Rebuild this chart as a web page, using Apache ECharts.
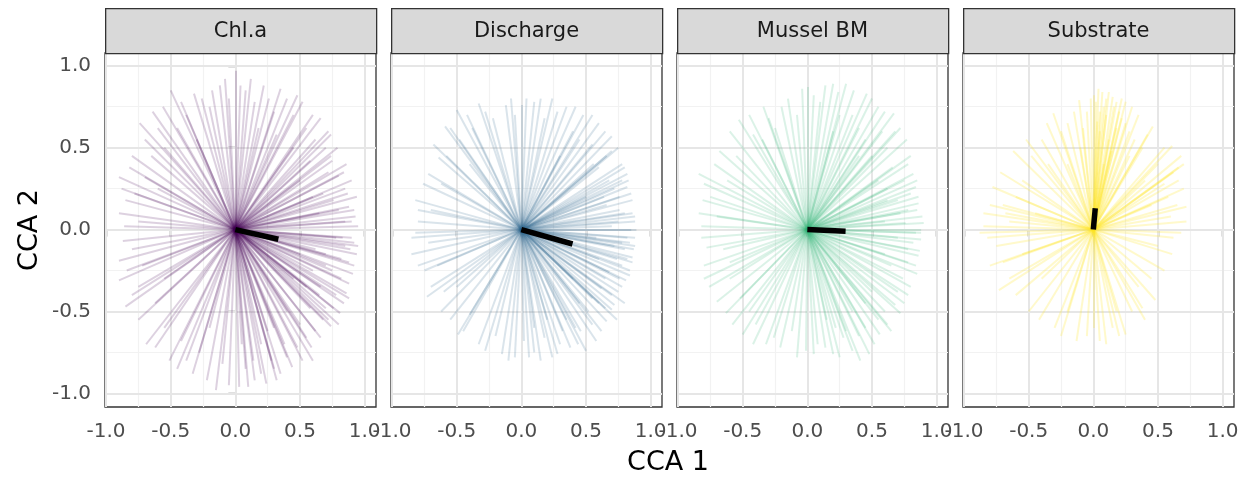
<!DOCTYPE html>
<html>
<head>
<meta charset="utf-8">
<script src="https://cdn.jsdelivr.net/npm/echarts@6/dist/echarts.min.js"></script>
<style>html,body{margin:0;padding:0;background:#fff;}#c{width:1252px;height:482px;}</style>
</head>
<body>
<div id="c"></div>
<script>
const panelNames = ['Chl.a', 'Discharge', 'Mussel BM', 'Substrate'];
const panelColors = ['#440154', '#31688E', '#35B779', '#FDE725'];
const xTicks = [-1.0, -0.5, 0.0, 0.5, 1.0];
const yTicks = [-1.0, -0.5, 0.0, 0.5, 1.0];
const minorTicks = [-0.75, -0.25, 0.25, 0.75];
const xRange = [-1.008, 1.088];
const yRange = [-1.083, 1.078];

// endpoints of each CCA biplot arrow (start at origin)
const chlEnds = [[0.95,0.02],[0.93,0.08],[0.90,-0.05],[0.88,0.14],[0.94,0.20],[0.85,0.25],[0.90,0.30],[0.80,0.33],[0.86,0.40],[0.75,0.42],[0.79,0.50],[0.70,0.50],[0.74,0.58],[0.62,0.55],[0.66,0.68],[0.55,0.62],[0.52,0.78],[0.45,0.70],[0.40,0.80],[0.30,0.72],[0.22,0.88],[0.15,0.78],[0.08,0.85],[0.00,0.97],[-0.05,0.80],[-0.12,0.88],[-0.20,0.75],[-0.32,0.83],[-0.38,0.70],[-0.50,0.85],[-0.45,0.62],[-0.56,0.75],[-0.64,0.72],[-0.55,0.50],[-0.74,0.65],[-0.65,0.45],[-0.80,0.45],[-0.70,0.32],[-0.90,0.32],[-0.78,0.22],[-0.85,0.18],[-0.90,0.10],[-0.75,0.05],[-0.87,-0.07],[-0.80,-0.12],[-0.90,-0.19],[-0.72,-0.22],[-0.90,-0.31],[-0.75,-0.35],[-0.85,-0.47],[-0.62,-0.45],[-0.69,-0.70],[-0.55,-0.60],[-0.51,-0.80],[-0.42,-0.68],[-0.33,-0.88],[-0.28,-0.75],[-0.15,-0.98],[-0.10,-0.82],[0.03,-0.96],[0.08,-0.85],[0.15,-0.92],[0.24,-0.94],[0.28,-0.80],[0.35,-0.88],[0.44,-0.84],[0.48,-0.72],[0.59,-0.72],[0.62,-0.62],[0.74,-0.59],[0.70,-0.48],[0.81,-0.51],[0.78,-0.40],[0.86,-0.39],[0.82,-0.30],[0.91,-0.27],[0.88,-0.20],[0.94,-0.15],[0.85,-0.10],[0.92,-0.08],[0.70,-0.15],[0.60,-0.25],[0.65,0.10],[0.55,-0.35],[0.50,0.30],[0.40,-0.50],[0.75,-0.25],[0.80,0.12],[0.72,-0.55],[0.68,0.22],[0.30,-0.60],[0.58,0.42],[0.20,-0.70],[0.45,-0.30],[0.83,-0.05],[0.65,-0.40],
  [0.90,0.05],[0.87,0.22],[0.84,0.35],[0.72,0.60],[0.60,0.70],[0.48,0.82],[0.35,0.86],[0.26,0.80],[0.12,0.92],[0.04,0.88],[-0.08,0.92],[-0.18,0.85],[-0.26,0.80],[-0.42,0.78],[-0.60,0.62],[-0.70,0.55],[-0.82,0.38],[-0.88,0.25],[-0.86,0.02],[-0.84,-0.25],[-0.80,-0.40],[-0.75,-0.55],[-0.62,-0.72],[-0.45,-0.85],[-0.38,-0.80],[-0.22,-0.92],[-0.05,-0.95],[0.10,-0.96],[0.20,-0.88],[0.32,-0.92],[0.40,-0.78],[0.52,-0.80],[0.55,-0.66],[0.66,-0.66],[0.68,-0.55],[0.76,-0.48],[0.84,-0.45],[0.88,-0.33],[0.92,-0.22],[0.95,-0.10],[0.89,-0.12],[0.78,-0.05],[0.85,0.05],[0.76,0.18],[0.62,-0.12],[0.58,-0.48],[0.50,-0.58],[0.38,-0.70],[0.25,-0.62],[0.14,-0.80],[0.72,0.35],[0.60,0.20],[0.45,0.50],[0.32,0.58],[0.18,0.62],[0.80,-0.58],[0.66,-0.35],[0.70,-0.22],[0.82,-0.18],[0.50,-0.15],[-0.30,0.55],[-0.60,0.25],[-0.55,-0.30],[-0.20,-0.60],[0.05,-0.70],[0.92,0.12],[0.88,-0.42],[0.60,-0.80],[0.74,0.45],[0.30,-0.85]];
const dischargeEnds = [[0.89,0.00],[0.86,0.10],[0.86,0.18],[0.84,-0.08],[0.82,0.26],[0.82,0.34],[0.78,0.40],[0.76,0.20],[0.70,0.48],[0.70,0.57],[0.60,0.65],[0.55,0.52],[0.48,0.70],[0.40,0.60],[0.35,0.75],[0.24,0.80],[0.18,0.68],[0.10,0.78],[0.04,0.80],[-0.05,0.70],[-0.12,0.76],[-0.22,0.68],[-0.33,0.77],[-0.38,0.62],[-0.50,0.73],[-0.48,0.55],[-0.59,0.63],[-0.58,0.45],[-0.64,0.44],[-0.72,0.34],[-0.62,0.28],[-0.82,0.18],[-0.70,0.12],[-0.80,0.05],[-0.85,-0.05],[-0.72,-0.08],[-0.85,-0.15],[-0.75,-0.25],[-0.65,-0.22],[-0.73,-0.41],[-0.60,-0.38],[-0.55,-0.55],[-0.49,-0.64],[-0.40,-0.52],[-0.33,-0.70],[-0.20,-0.65],[-0.15,-0.76],[-0.05,-0.78],[0.02,-0.68],[0.10,-0.75],[0.18,-0.66],[0.24,-0.78],[0.30,-0.70],[0.38,-0.72],[0.42,-0.60],[0.50,-0.74],[0.55,-0.58],[0.62,-0.62],[0.65,-0.48],[0.70,-0.49],[0.75,-0.38],[0.81,-0.31],[0.78,-0.22],[0.86,-0.17],[0.84,-0.25],[0.80,-0.12],[0.72,-0.10],[0.65,-0.30],[0.60,-0.18],[0.75,0.05],[0.68,0.30],[0.55,-0.42],[0.45,-0.45],[0.80,0.10],[0.70,-0.40],[0.35,-0.55],[0.60,0.38],[0.50,0.20],[0.82,-0.05],[0.76,-0.30],[0.66,0.15],[0.88,0.08],[0.58,-0.05],[0.72,0.25],[0.40,-0.30],
  [0.88,0.05],[0.87,-0.12],[0.85,0.22],[0.83,0.30],[0.80,0.38],[0.75,0.50],[0.65,0.60],[0.55,0.70],[0.42,0.75],[0.28,0.72],[0.15,0.80],[0.00,0.76],[-0.08,0.80],[-0.28,0.72],[-0.42,0.70],[-0.55,0.62],[-0.68,0.52],[-0.76,0.28],[-0.80,0.12],[-0.82,-0.02],[-0.80,-0.22],[-0.70,-0.35],[-0.62,-0.50],[-0.45,-0.62],[-0.28,-0.74],[-0.10,-0.80],[0.06,-0.78],[0.15,-0.80],[0.28,-0.76],[0.44,-0.70],[0.58,-0.68],[0.66,-0.56],[0.72,-0.46],[0.78,-0.35],[0.84,-0.28],[0.86,-0.20],[0.88,-0.10],[0.82,-0.18],[0.78,-0.08],[0.74,-0.18],[0.68,-0.26],[0.62,-0.36],[0.52,-0.50],[0.46,-0.62],[0.32,-0.62],[0.20,-0.55],[0.70,0.02],[0.64,0.20],[0.56,0.40],[0.45,0.55],[0.30,0.45],[0.80,-0.45],[0.74,-0.55],[0.85,0.00],[0.60,-0.45],[0.88,-0.05],[0.66,0.45],[0.78,0.30],[-0.40,0.40],[-0.50,-0.35],[0.10,-0.60],[0.76,0.12]];
const musselEnds = [[0.90,0.04],[0.88,-0.02],[0.85,0.12],[0.87,-0.13],[0.85,0.30],[0.80,0.22],[0.77,0.55],[0.78,0.40],[0.67,0.71],[0.62,0.50],[0.55,0.75],[0.46,0.83],[0.40,0.62],[0.30,0.89],[0.25,0.70],[0.20,0.89],[0.10,0.78],[0.00,0.87],[-0.08,0.70],[-0.15,0.80],[-0.25,0.62],[-0.34,0.75],[-0.42,0.58],[-0.53,0.67],[-0.55,0.45],[-0.68,0.48],[-0.62,0.30],[-0.84,0.34],[-0.75,0.20],[-0.81,0.18],[-0.70,0.08],[-0.82,0.02],[-0.78,-0.11],[-0.65,-0.12],[-0.80,-0.22],[-0.76,-0.35],[-0.60,-0.30],[-0.63,-0.51],[-0.52,-0.42],[-0.50,-0.64],[-0.40,-0.58],[-0.32,-0.70],[-0.21,-0.72],[-0.12,-0.62],[-0.01,-0.74],[0.08,-0.70],[0.20,-0.76],[0.28,-0.66],[0.41,-0.80],[0.45,-0.60],[0.56,-0.64],[0.60,-0.50],[0.72,-0.51],[0.70,-0.38],[0.85,-0.27],[0.78,-0.20],[0.82,-0.08],[0.72,0.10],[0.65,-0.22],[0.75,0.30],[0.50,-0.38],[0.55,0.30],[0.35,-0.50],[0.68,0.60],[0.15,-0.55],[0.60,0.05],[0.80,-0.35],[0.45,0.55],[0.86,0.20],[0.30,-0.62],[0.70,-0.05],[0.52,-0.70],[0.62,0.18],[0.40,0.45],[0.75,-0.45],
  [0.89,0.08],[0.88,-0.06],[0.86,0.16],[0.84,0.26],[0.80,0.45],[0.72,0.62],[0.60,0.72],[0.50,0.80],[0.36,0.85],[0.24,0.84],[0.14,0.88],[0.05,0.82],[-0.04,0.86],[-0.20,0.75],[-0.30,0.68],[-0.45,0.70],[-0.60,0.60],[-0.72,0.40],[-0.80,0.28],[-0.84,0.10],[-0.82,-0.05],[-0.80,-0.30],[-0.70,-0.44],[-0.58,-0.58],[-0.42,-0.70],[-0.26,-0.66],[-0.08,-0.78],[0.05,-0.76],[0.14,-0.72],[0.25,-0.78],[0.35,-0.74],[0.48,-0.76],[0.62,-0.58],[0.68,-0.46],[0.78,-0.40],[0.84,-0.22],[0.86,-0.16],[0.84,-0.02],[0.76,0.04],[0.70,0.18],[0.78,-0.12],[0.60,-0.15],[0.55,-0.55],[0.40,-0.65],[0.22,-0.60],[0.58,0.60],[0.50,0.45],[0.66,0.38],[0.35,0.70],[0.20,0.60],[0.82,0.34],[0.74,-0.30],[0.65,-0.62],[0.45,-0.45],[-0.35,0.55],[-0.60,-0.20],[-0.45,-0.50],[0.88,0.00],[0.62,0.25],[0.78,0.12]];
const substrateEnds = [[0.07,0.84],[0.15,0.81],[0.10,0.70],[0.02,0.78],[-0.05,0.72],[0.20,0.72],[-0.11,0.79],[0.25,0.65],[0.05,0.60],[-0.20,0.65],[0.30,0.75],[-0.31,0.71],[0.46,0.63],[0.38,0.50],[-0.40,0.55],[0.61,0.51],[0.50,0.40],[-0.52,0.55],[0.66,0.38],[0.55,0.28],[-0.62,0.48],[0.70,0.25],[-0.55,0.30],[0.72,0.14],[0.60,0.08],[-0.78,0.26],[-0.70,0.15],[0.68,-0.02],[-0.85,0.10],[-0.88,-0.02],[0.61,-0.15],[-0.75,-0.10],[0.55,-0.25],[-0.80,-0.22],[0.48,-0.43],[-0.73,-0.37],[0.40,-0.55],[-0.60,-0.40],[0.25,-0.64],[-0.42,-0.55],[0.10,-0.70],[-0.30,-0.60],[-0.13,-0.68],[0.00,-0.60],[0.18,-0.50],[-0.20,-0.50],[0.35,-0.35],[-0.55,-0.15],[0.45,0.15],[-0.45,0.10],[0.12,0.55],[-0.10,0.50],[0.28,0.45],[0.08,0.75],[0.18,0.62],[-0.65,0.05],[0.62,0.35],[-0.35,0.40],[0.00,0.82],[0.22,0.80],
  [0.10,0.80],[0.12,0.84],[0.05,0.72],[0.16,0.75],[0.03,0.66],[0.22,0.68],[-0.02,0.80],[0.28,0.60],[0.14,0.48],[0.08,0.40],[-0.08,0.62],[-0.15,0.72],[0.35,0.70],[0.42,0.58],[0.55,0.50],[0.68,0.45],[0.66,0.30],[0.72,0.05],[0.65,0.15],[0.58,0.20],[0.50,-0.10],[0.45,-0.30],[0.30,-0.50],[0.20,-0.65],[0.05,-0.68],[-0.05,-0.65],[-0.25,-0.65],[-0.50,-0.50],[-0.65,-0.30],[-0.82,-0.05],[-0.80,0.15],[-0.72,0.35],[-0.60,0.20],[-0.48,0.45],[-0.25,0.60],[-0.36,0.65],[-0.70,-0.20],[-0.85,0.02],[-0.40,-0.30],[0.70,0.40],[0.62,-0.05],[0.38,-0.48],[0.15,-0.60],[-0.68,0.10],[0.18,0.78],[0.04,0.86],[0.25,0.78],[0.32,0.55],[-0.20,0.40],[0.40,0.30]];
const meanX = [0.333, 0.396, 0.296, 0.015];
const meanY = [-0.059, -0.088, -0.010, 0.130];

const allEnds = [chlEnds, dischargeEnds, musselEnds, substrateEnds];
const lineOpacity = [0.18, 0.18, 0.18, 0.24];

const gridLefts = [105, 391, 677, 963];
const gridW = 271, gridTop = 53, gridH = 354, stripTop = 8;
const FONT = 'DejaVu Sans';

const grids = [], xAxes = [], yAxes = [], series = [], graphics = [];
for (let i = 0; i < 4; i++) {
  grids.push({left: gridLefts[i], top: gridTop, width: gridW, height: gridH,
    show: true, backgroundColor: '#fff', borderColor: '#333', borderWidth: 1.3, containLabel: false});
  xAxes.push({type: 'value', gridIndex: i, min: xRange[0], max: xRange[1],
    axisLine: {show: false},
    axisTick: {show: true, length: 7, customValues: xTicks, lineStyle: {color: '#333', width: 1.3}},
    axisLabel: {show: true, customValues: xTicks, margin: 15, color: '#4D4D4D', fontSize: 20, fontFamily: FONT,
      formatter: v => v.toFixed(1), hideOverlap: false, showMinLabel: true, showMaxLabel: true},
    splitLine: {show: false}});
  yAxes.push({type: 'value', gridIndex: i, min: yRange[0], max: yRange[1],
    axisLine: {show: false},
    axisTick: {show: i === 0, length: 7, customValues: yTicks, lineStyle: {color: '#333', width: 1.3}},
    axisLabel: {show: i === 0, customValues: yTicks, margin: 14, color: '#4D4D4D', fontSize: 20, fontFamily: FONT,
      formatter: v => v.toFixed(1), showMinLabel: true, showMaxLabel: true},
    splitLine: {show: false}});
  const minorData = [];
  minorTicks.forEach(t => {
    minorData.push({coords: [[t, yRange[0]], [t, yRange[1]]]});
    minorData.push({coords: [[xRange[0], t], [xRange[1], t]]});
  });
  series.push({type: 'lines', coordinateSystem: 'cartesian2d', xAxisIndex: i, yAxisIndex: i, silent: true, z: 1,
    lineStyle: {color: '#F2F2F2', width: 1.2, opacity: 1}, data: minorData});
  const majorData = [];
  xTicks.forEach(t => majorData.push({coords: [[t, yRange[0]], [t, yRange[1]]]}));
  yTicks.forEach(t => majorData.push({coords: [[xRange[0], t], [xRange[1], t]]}));
  series.push({type: 'lines', coordinateSystem: 'cartesian2d', xAxisIndex: i, yAxisIndex: i, silent: true, z: 1,
    lineStyle: {color: '#E6E6E6', width: 2, opacity: 1}, data: majorData});
  series.push({type: 'lines', coordinateSystem: 'cartesian2d', xAxisIndex: i, yAxisIndex: i, silent: true, z: 2,
    lineStyle: {color: panelColors[i], width: 2, opacity: lineOpacity[i], cap: 'butt'},
    data: allEnds[i].map(p => ({coords: [[0, 0], [p[0], p[1]]]}))});
  series.push({type: 'lines', coordinateSystem: 'cartesian2d', xAxisIndex: i, yAxisIndex: i, silent: true, z: 3,
    lineStyle: {color: '#000', width: 5.5, opacity: 1, cap: 'butt'},
    data: [{coords: [[0, 0], [meanX[i], meanY[i]]]}]});
  graphics.push({type: 'rect', left: gridLefts[i], top: stripTop, z: 10,
    shape: {width: gridW, height: gridTop - stripTop},
    style: {fill: '#D9D9D9', stroke: '#333', lineWidth: 1.3}});
  graphics.push({type: 'text', z: 11, x: gridLefts[i] + gridW / 2, y: stripTop + (gridTop - stripTop) / 2 + 1,
    style: {text: panelNames[i], fill: '#1A1A1A', font: '21px "' + FONT + '"', align: 'center', verticalAlign: 'middle'}});
}
graphics.push({type: 'text', x: 668, y: 463, z: 11,
  style: {text: 'CCA 1', fill: '#000', font: '27px "' + FONT + '"', align: 'center', verticalAlign: 'middle'}});
graphics.push({type: 'text', x: 30, y: 230, rotation: Math.PI / 2, z: 11,
  style: {text: 'CCA 2', fill: '#000', font: '27px "' + FONT + '"', align: 'center', verticalAlign: 'middle'}});

const chart = echarts.init(document.getElementById('c'), null, {renderer: 'canvas'});
chart.setOption({
  animation: false,
  backgroundColor: '#fff',
  grid: grids, xAxis: xAxes, yAxis: yAxes, series: series, graphic: graphics
});
</script>
</body>
</html>
